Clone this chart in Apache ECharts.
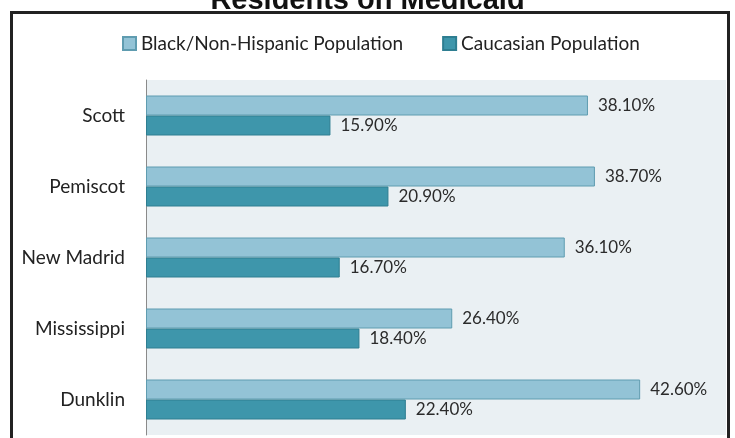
<!DOCTYPE html>
<html><head><meta charset="utf-8">
<script src="https://cdn.jsdelivr.net/npm/echarts@6/dist/echarts.min.js"></script>
<style>html,body{margin:0;padding:0;background:#fff}#c{width:735px;height:438px}</style>
</head><body><div id="c"></div>
<script>
const titleText = 'Residents on Medicaid';
const counties = ['Scott', 'Pemiscot', 'New Madrid', 'Mississippi', 'Dunklin'];
const blackPop = [38.1, 38.7, 36.1, 26.4, 42.6];
const caucasianPop = [15.9, 20.9, 16.7, 18.4, 22.4];
const seriesNames = ['Black/Non-Hispanic Population', 'Caucasian Population'];

const chart = echarts.init(document.getElementById('c'), null, {renderer: 'canvas'});
const font = 'Lato, "Open Sans", sans-serif';
const lbl = {show: true, position: 'right', distance: 10, color: '#2b2b2b', fontSize: 17, fontFamily: font,
  formatter: p => p.value.toFixed(2) + '%'};
chart.setOption({
  animation: false,
  title: {text: titleText, left: 'center', top: -19,
    textStyle: {fontSize: 29, fontWeight: 'bold', color: '#111', fontFamily: '"Liberation Sans", Arial, sans-serif'}},
  graphic: [{type: 'rect', shape: {x: 11.5, y: 12.5, width: 717, height: 440},
    style: {fill: '#fff', stroke: '#222', lineWidth: 3}, z: -1, silent: true},
    {type: 'rect', shape: {x: 11.5, y: 12.5, width: 717, height: 440},
    style: {fill: null, stroke: '#222', lineWidth: 3}, z: 100, silent: true}],
  legend: {top: 29, left: 117, itemWidth: 13, itemHeight: 13, itemGap: 39, icon: 'rect',
    textStyle: {fontSize: 19, color: '#222', fontFamily: font}, data: seriesNames},
  grid: {left: 146, right: 9, top: 80, bottom: 3, show: true, backgroundColor: '#EAF0F3', borderWidth: 0},
  xAxis: {type: 'value', min: 0, max: 50, show: false, splitLine: {show: false}},
  yAxis: {type: 'category', inverse: true, data: counties,
    axisLine: {lineStyle: {color: '#8a8a8a', width: 1}}, axisTick: {show: false},
    axisLabel: {fontSize: 19, color: '#222', margin: 21, fontFamily: font}},
  series: [
    {name: seriesNames[0], type: 'bar', data: blackPop, barWidth: 20, barGap: '0%',
      itemStyle: {color: '#93C3D6', borderColor: '#5F9CB0', borderWidth: 1}, label: lbl},
    {name: seriesNames[1], type: 'bar', data: caucasianPop, barWidth: 20,
      itemStyle: {color: '#3E96AB', borderColor: '#2E7E91', borderWidth: 1}, label: lbl}
  ]
});
</script></body></html>
